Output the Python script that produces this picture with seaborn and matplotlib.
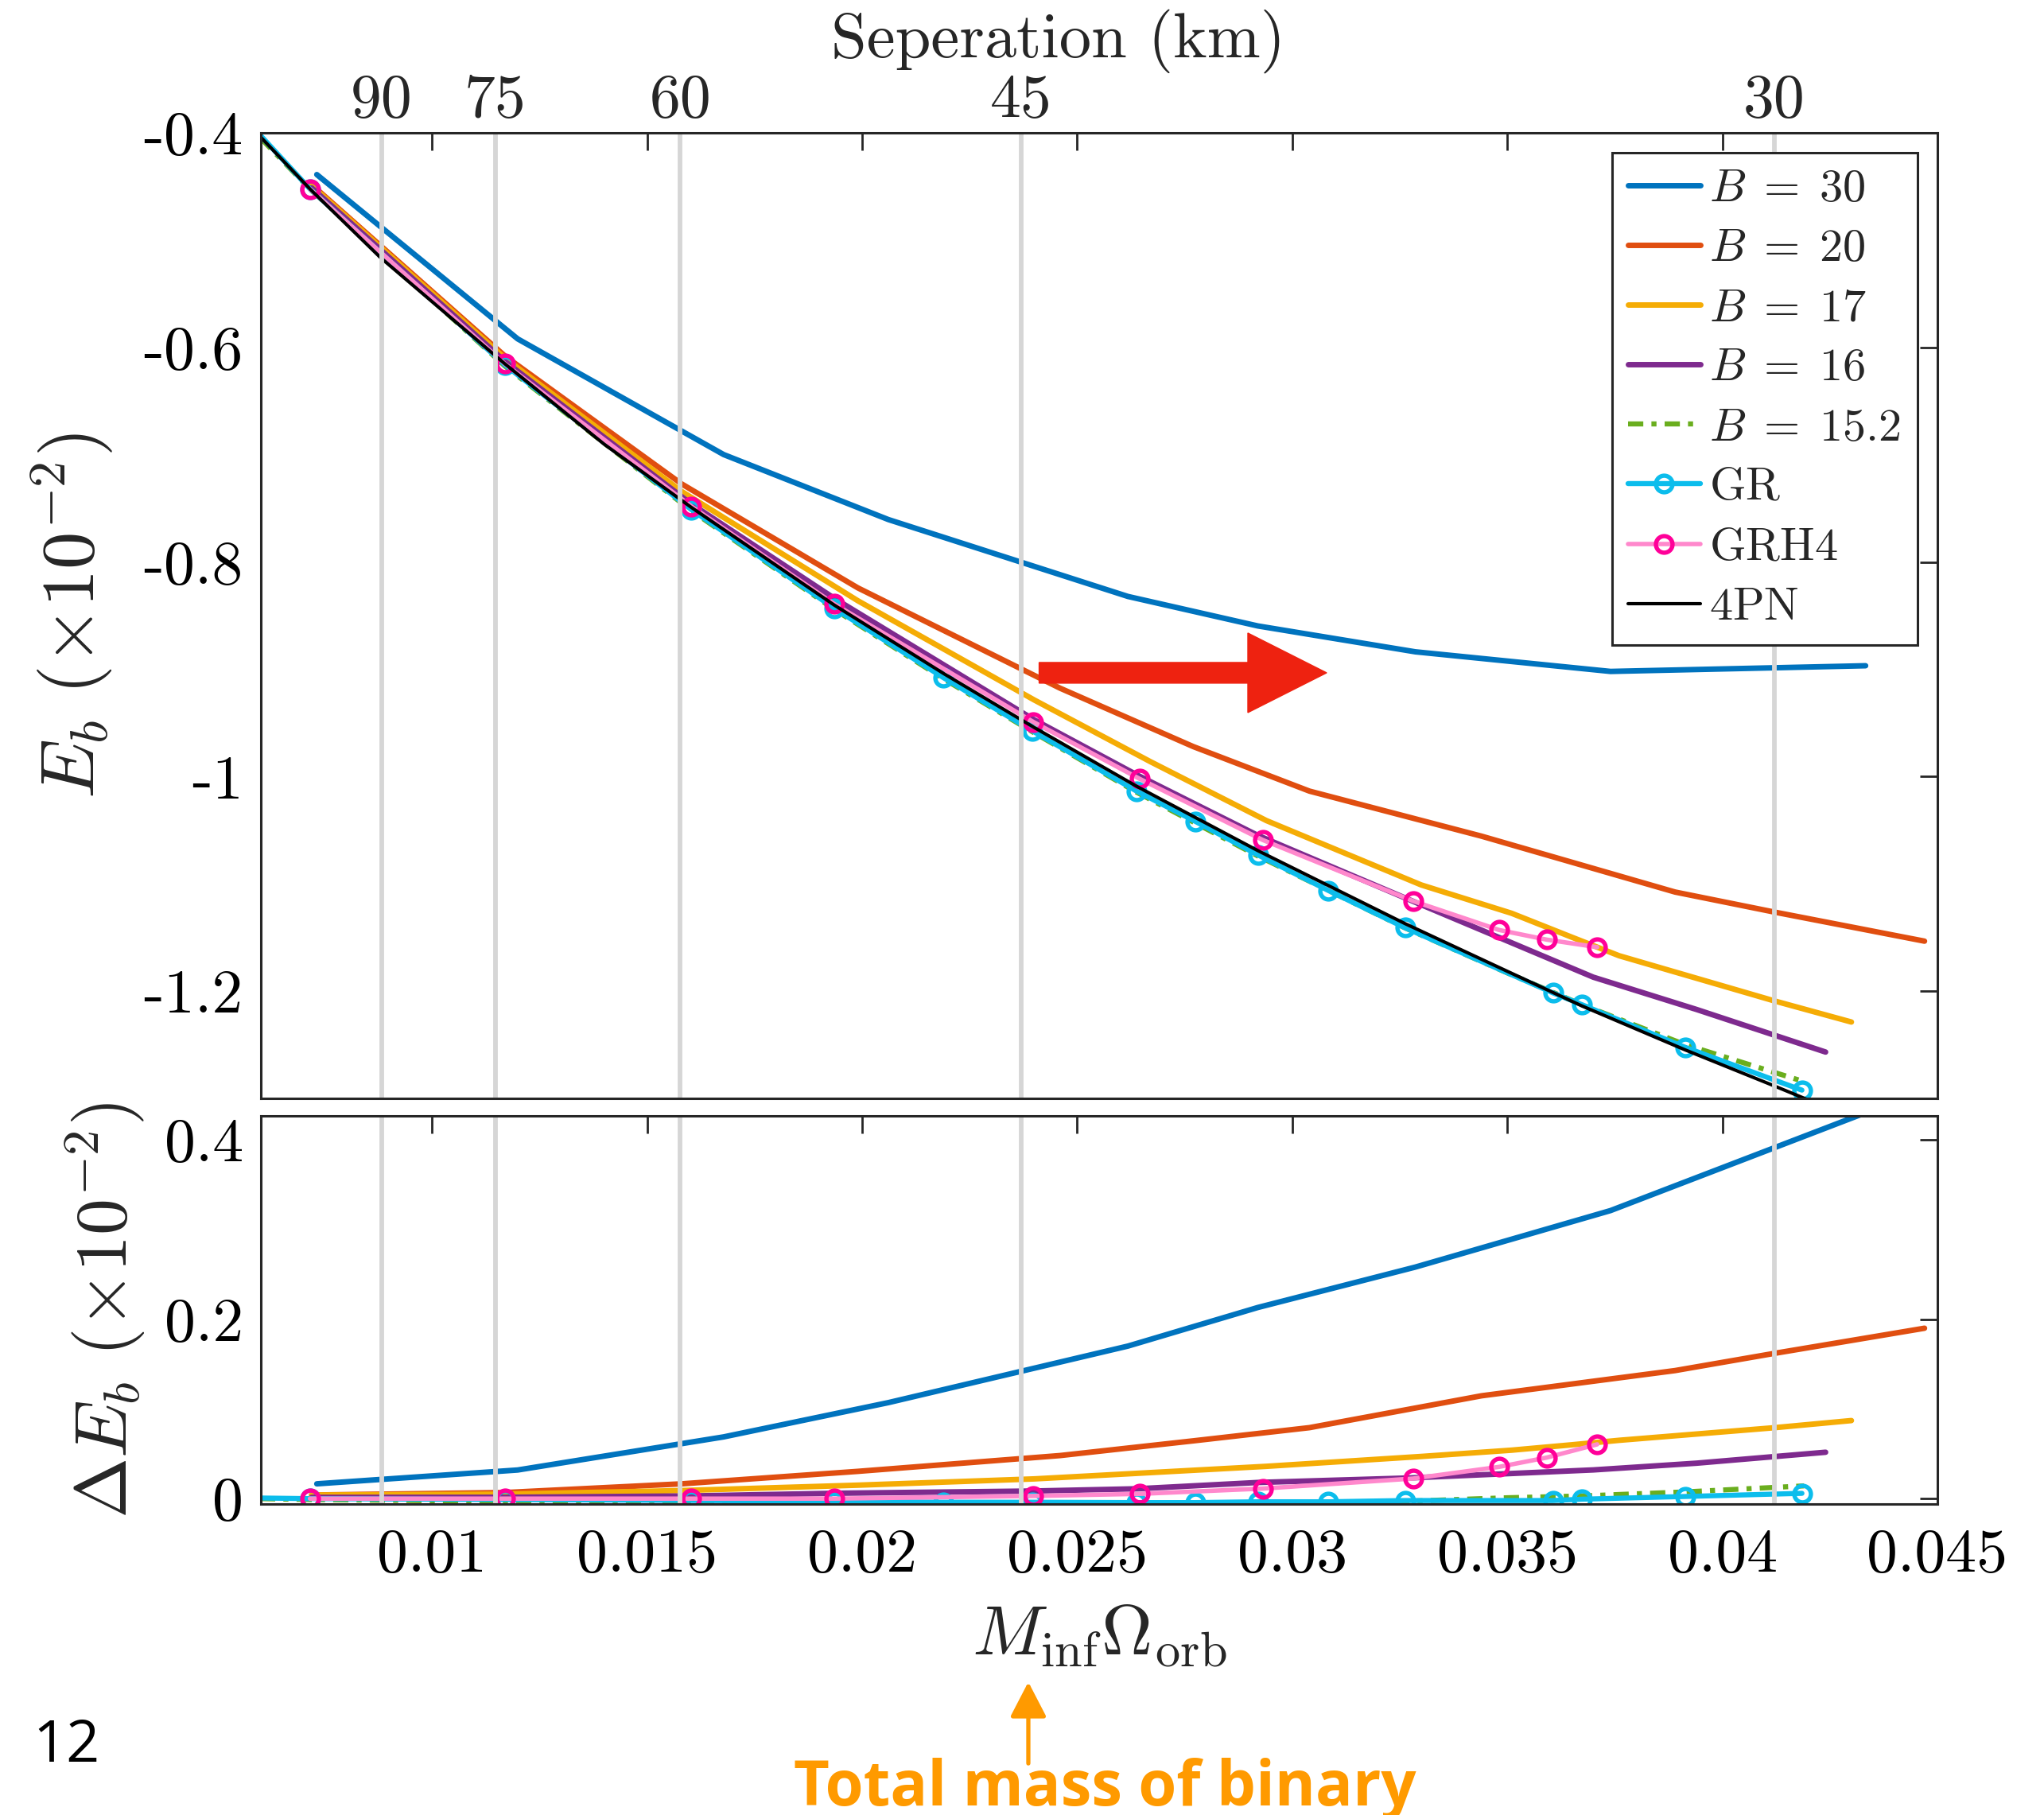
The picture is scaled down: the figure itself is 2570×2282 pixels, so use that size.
import matplotlib
matplotlib.use("Agg")
import matplotlib.pyplot as plt
from matplotlib.patches import FancyArrow, FancyArrowPatch
import pandas as pd
import seaborn as sns

# ---------------------------------------------------------------- data
# binding energy E_b (x 1e-2) against M_inf * Omega_orb
b30_x = [0.00732, 0.01199, 0.01678, 0.02061, 0.02618, 0.02920, 0.03286, 0.03740, 0.04333]
b30_e = [-0.4386, -0.5918, -0.6997, -0.7603, -0.8320, -0.8595, -0.8836, -0.9019, -0.8966]
b30_d = [0.0165, 0.0319, 0.0688, 0.1070, 0.1700, 0.2130, 0.2580, 0.3210, 0.4300]

b20_x = [0.0072, 0.0117, 0.0158, 0.0199, 0.0246, 0.0277, 0.0304, 0.0344, 0.0389, 0.0412, 0.0447]
b20_e = [-0.448, -0.608, -0.727, -0.824, -0.9175, -0.972, -1.0135, -1.0555, -1.1076, -1.1262, -1.1534]
b20_d = [0.004, 0.0068, 0.0165, 0.0304, 0.048, 0.0644, 0.0791, 0.1146, 0.1427, 0.1618, 0.1899]

b17_x = [0.0072, 0.0117, 0.0158, 0.0199, 0.0240, 0.0267, 0.0294, 0.0330, 0.0351, 0.0365, 0.0376, 0.0412, 0.0430]
b17_e = [-0.449, -0.610, -0.734, -0.836, -0.9285, -0.986, -1.041, -1.101, -1.1274, -1.1497, -1.167, -1.209, -1.2288]
b17_d = [0.004, 0.005, 0.009, 0.015, 0.022, 0.029, 0.036, 0.047, 0.054, 0.060, 0.065, 0.079, 0.087]

b16_x = [0.0072, 0.0117, 0.0160, 0.0194, 0.0240, 0.0264, 0.0292, 0.0327, 0.0370, 0.0394, 0.0424]
b16_e = [-0.451, -0.613, -0.745, -0.835, -0.947, -0.9986, -1.0548, -1.1144, -1.187, -1.2171, -1.2568]
b16_d = [0.0014, 0.0015, 0.003, 0.006, 0.0085, 0.011, 0.018, 0.023, 0.032, 0.0395, 0.0517]

b152_x = [0.0060, 0.00716, 0.01169, 0.01603, 0.01935, 0.0219, 0.02395, 0.02638, 0.0292, 0.03262,
          0.0350, 0.03674, 0.03913, 0.0419]
b152_e = [-0.404, -0.452, -0.617, -0.752, -0.844, -0.909, -0.958, -1.0145, -1.074, -1.141,
          -1.183, -1.2127, -1.2498, -1.2844]
b152_d = [0.000, -0.001, -0.003, -0.005, -0.006, -0.006, -0.006, -0.006, -0.005, -0.003,
          0.001, 0.003, 0.0075, 0.0142]

gr_x = [0.0055, 0.00716, 0.01169, 0.01603, 0.01935, 0.02188, 0.02395, 0.02638, 0.02774, 0.02920,
        0.03084, 0.03262, 0.03606, 0.03674, 0.03913, 0.04185]
gr_e = [-0.380, -0.452, -0.616, -0.751, -0.843, -0.9075, -0.9572, -1.0135, -1.0416, -1.0730,
        -1.1062, -1.1409, -1.2016, -1.2127, -1.2523, -1.2923]
gr_d = [0.001, 0.000, -0.001, -0.002, -0.003, -0.004, -0.004, -0.0044, -0.0044, -0.0035,
        -0.0035, -0.0021, -0.0021, -0.0006, 0.0024, 0.0059]

grh4_x = [0.00716, 0.01169, 0.01603, 0.01935, 0.02398, 0.02645, 0.02931, 0.03281, 0.03481, 0.03592, 0.03709]
grh4_e = [-0.452, -0.615, -0.748, -0.839, -0.949, -1.002, -1.059, -1.116, -1.143, -1.152, -1.159]
grh4_d = [0.000, 0.000, 0.000, 0.000, 0.003, 0.0053, 0.0112, 0.0224, 0.0354, 0.0458, 0.0605]

pn4_x = [0.0060, 0.00716, 0.0088, 0.01169, 0.0140, 0.01603, 0.01935, 0.0219, 0.02395, 0.02638,
         0.0292, 0.03262, 0.03508, 0.03674, 0.03913, 0.04119, 0.0420]
pn4_e = [-0.403, -0.452, -0.516, -0.615, -0.690, -0.749, -0.840, -0.904, -0.953, -1.009,
         -1.069, -1.137, -1.183, -1.2139, -1.2547, -1.2881, -1.3015]

# orbital separation markers (km) and where they sit on the frequency axis
sep_km = ["90", "75", "60", "45", "30"]
sep_x = [0.00883, 0.01147, 0.01577, 0.02369, 0.04121]

x_ticks = [0.01, 0.015, 0.02, 0.025, 0.03, 0.035, 0.04, 0.045]
x_tick_labels = ["0.01", "0.015", "0.02", "0.025", "0.03", "0.035", "0.04", "0.045"]
e_ticks = [-0.4, -0.6, -0.8, -1.0, -1.2]
e_tick_labels = ["-0.4", "-0.6", "-0.8", "-1", "-1.2"]
d_ticks = [0.0, 0.2, 0.4]
d_tick_labels = ["0", "0.2", "0.4"]

# ---------------------------------------------------------------- style
sns.set_theme(style="white")
plt.rcParams.update({
    "font.family": ["cmr10", "DejaVu Serif"],
    "mathtext.fontset": "cm",
    "axes.unicode_minus": False,
    "axes.formatter.use_mathtext": True,
    "axes.edgecolor": "#262626",
    "axes.linewidth": 2.2,
})

C30, C20, C17, C16, C152 = "#0073BE", "#E04E10", "#F5AC05", "#7E2A8E", "#6AAE1E"
CGR, CGRH4_LINE, CGRH4_MK = "#0CBDEC", "#FF88CC", "#FF0099"
GRID_GREY = "#D6D6D6"

fig = plt.figure(figsize=(25.70, 22.82), dpi=100)
ax_top = fig.add_axes([0.12763, 0.39483, 0.82023, 0.53181])
ax_bot = fig.add_axes([0.12763, 0.17134, 0.82023, 0.21385])

series = [
    (r"$B\;=\;30$", b30_x, b30_e, b30_d, dict(color=C30, lw=5.0)),
    (r"$B\;=\;20$", b20_x, b20_e, b20_d, dict(color=C20, lw=5.0)),
    (r"$B\;=\;17$", b17_x, b17_e, b17_d, dict(color=C17, lw=5.0)),
    (r"$B\;=\;16$", b16_x, b16_e, b16_d, dict(color=C16, lw=5.0)),
    (r"$B\;=\;15.2$", b152_x, b152_e, b152_d, dict(color=C152, lw=4.6, dashed=True)),
    (r"$\mathrm{GR}$", gr_x, gr_e, gr_d,
     dict(color=CGR, lw=4.6, marker="o", mec=CGR)),
    (r"$\mathrm{GRH4}$", grh4_x, grh4_e, grh4_d,
     dict(color=CGRH4_LINE, lw=4.0, marker="o", mec=CGRH4_MK)),
]


def draw(ax, x, y, label, opts):
    df = pd.DataFrame({"x": x, "y": y})
    sns.lineplot(data=df, x="x", y="y", ax=ax, color=opts["color"], label=label,
                 sort=False, estimator=None)
    line = ax.get_lines()[-1]
    line.set_linewidth(opts["lw"])
    line.set_color(opts["color"])
    if "marker" in opts:
        line.set_marker("o")
        line.set_markersize(15)
        line.set_markerfacecolor("none")
        line.set_markeredgecolor(opts["mec"])
        line.set_markeredgewidth(3.9)
    if opts.get("dashed"):
        line.set_dashes([3.0, 1.6, 1.0, 1.6])
    return line


handles = []
for label, x, e, d, opts in series:
    handles.append(draw(ax_top, x, e, label, opts))
    draw(ax_bot, x, d, None, opts)
handles.append(draw(ax_top, pn4_x, pn4_e, r"$\mathrm{4PN}$", dict(color="black", lw=3.0)))

for ax in (ax_top, ax_bot):
    lg = ax.get_legend()
    if lg is not None:
        lg.remove()
    for xv in sep_x:
        ax.axvline(xv, color=GRID_GREY, lw=4.2, zorder=3)
    ax.set_xlim(0.00602, 0.045)
    ax.set_xticks(x_ticks)
    ax.tick_params(direction="in", length=16, width=2.0, top=True, right=True,
                   colors="#262626", labelcolor="black", labelsize=56)
    ax.set_xlabel("")
    ax.set_ylabel("")
    for sp in ax.spines.values():
        sp.set_zorder(6)

ax_top.set_ylim(-1.3, -0.4)
ax_top.set_yticks(e_ticks, labels=e_tick_labels)
ax_top.tick_params(labelbottom=False, pad=14)
ax_top.tick_params(axis="y", pad=16)

ax_bot.set_ylim(-0.006, 0.4265)
ax_bot.set_yticks(d_ticks, labels=d_tick_labels)
ax_bot.set_xticks(x_ticks, labels=x_tick_labels)
ax_bot.tick_params(axis="x", pad=22)
ax_bot.tick_params(axis="y", pad=16)

# separation scale along the top edge
sec = ax_top.secondary_xaxis("top")
sec.set_xticks(sep_x, labels=sep_km)
sec.tick_params(length=0, pad=4, labelsize=56)
sec.spines["top"].set_visible(False)
fig.text(0.5179, 0.9772, "Seperation (km)", fontsize=58, ha="center", va="center")

ax_top.set_ylabel(r"$E_b\ (\times 10^{-2})$", fontsize=68)
ax_top.yaxis.set_label_coords(-0.087, 0.5)
ax_bot.set_ylabel(r"$\Delta E_b\ (\times 10^{-2})$", fontsize=66)
ax_bot.yaxis.set_label_coords(-0.068, 0.5)
ax_bot.set_xlabel(r"$M_{\rm inf}\Omega_{\rm orb}$", fontsize=64)
ax_bot.xaxis.set_label_coords(0.5, -0.255)
ax_bot.xaxis.label.set_verticalalignment("top")

leg = ax_top.legend(handles=handles, loc="upper right", bbox_to_anchor=(0.988, 0.98),
                    borderaxespad=0, fontsize=42, frameon=True, fancybox=False,
                    framealpha=1, edgecolor="#262626", handlelength=1.55,
                    handletextpad=0.2, labelspacing=0.40, borderpad=0.35)
leg.get_frame().set_linewidth(2.2)
leg.set_zorder(10)

# red arrow inside the upper panel
ax_top.add_patch(FancyArrow(0.4642, 0.4409, 0.1715, 0.0, width=0.0214, head_width=0.0824,
                            head_length=0.047, length_includes_head=True,
                            color="#EE2210", transform=ax_top.transAxes, zorder=7))

# page annotations
fig.text(0.016, 0.0294, "12", fontsize=53, family="Open Sans", color="black",
         ha="left", va="baseline")
fig.text(0.5405, 0.0053, "Total mass of binary", fontsize=56, family="Open Sans",
         fontweight="bold", color="#FF9A00", ha="center", va="baseline")
fig.add_artist(FancyArrowPatch((0.5031, 0.0272), (0.5031, 0.0745), transform=fig.transFigure,
                               arrowstyle="-|>,head_length=27,head_width=14",
                               mutation_scale=1, lw=3.8, color="#FF9A00"))

fig.savefig("out.png", dpi=100)
